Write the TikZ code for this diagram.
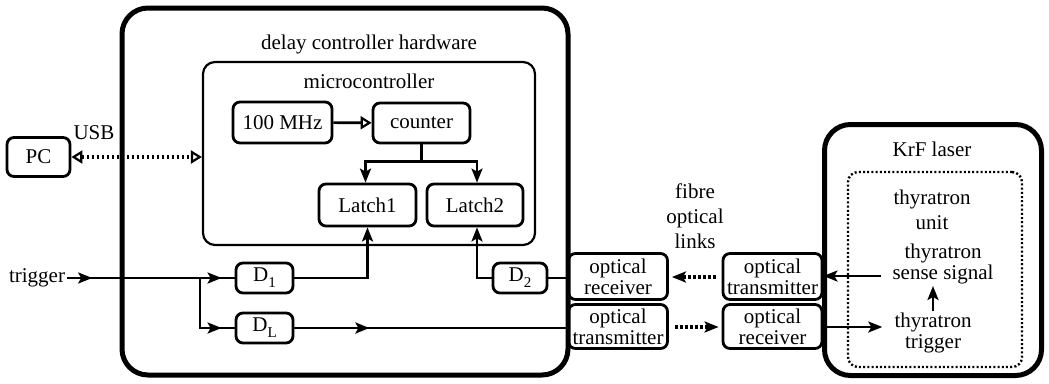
\documentclass[tikz,border=0pt]{standalone}
\usepackage{fontspec}
\setmainfont{Liberation Serif}
\usetikzlibrary{arrows.meta,calc}
\newcommand\dfont{\fontsize{21}{21}\selectfont}
\newcommand\subs[1]{\raisebox{-0.28em}{\fontsize{15}{15}\selectfont #1}}
\begin{document}
\begin{tikzpicture}[x=1pt,y=-1pt,
  every node/.style={font=\dfont, inner sep=2pt},
  box/.style={draw, line width=2.8pt, rounded corners=7pt, align=center, inner sep=0pt},
  bigbox/.style={draw, line width=5pt, rounded corners=26pt},
  wire/.style={line width=2.6pt},
  arr/.style={wire, -{Stealth[length=14pt,width=11pt,inset=3pt]}},
  openarr/.style={wire, -{Triangle[open,length=11pt,width=13pt,line width=2.2pt]}},
  dotline/.style={line width=3.2pt, dash pattern=on 2.6pt off 2.4pt},
  txt/.style={align=center}
]
\useasboundingbox (0,0) rectangle (1049,383);

% big containers
\node[bigbox, minimum width=446pt, minimum height=367pt] (dch) at (345,191.5) {};
\node (dchl) at (369,44) {delay controller hardware};
\node[draw, line width=2.2pt, rounded corners=12pt, minimum width=332pt, minimum height=183pt] (mc) at (369,153.5) {};
\node (mcl) at (369,81) {microcontroller};

\node[bigbox, minimum width=217pt, minimum height=251pt] (krf) at (933,250) {};
\node (krfl) at (932,149) {KrF laser};
\node[draw, line width=2.4pt, dash pattern=on 2pt off 2.2pt, rounded corners=10pt, minimum width=174pt, minimum height=195pt] (thu) at (935,269.5) {};
\node[txt] (thul) at (932,210) {thyratron\\[4pt]unit};

% micro controller internals
\node[box, minimum width=99pt, minimum height=41pt] (clk) at (282.5,122.5) {100 MHz};
\node[box, minimum width=97pt, minimum height=40pt] (cnt) at (421.5,123) {counter};
\node[box, minimum width=97pt, minimum height=42pt] (l1) at (367.5,205) {Latch1};
\node[box, minimum width=96pt, minimum height=42pt] (l2) at (475,205) {Latch2};

% PC
\node[box, minimum width=63pt, minimum height=39pt] (pc) at (38.5,157) {PC};
\node (usb) at (94,133) {USB};

% delay boxes
\node[box, minimum width=57pt, minimum height=30pt] (d1) at (264.5,278) {D\subs{1}};
\node[box, minimum width=57pt, minimum height=30pt] (dl) at (264.5,328) {D\subs{L}};
\node[box, minimum width=54pt, minimum height=30pt] (d2) at (520,278) {D\subs{2}};

% optical boxes
\node[box, minimum width=99pt, minimum height=46pt] (orl) at (618,276.5) {optical\\receiver};
\node[box, minimum width=99pt, minimum height=44pt] (otl) at (618,326.5) {optical\\transmitter};
\node[box, minimum width=99pt, minimum height=46pt] (otr) at (772.5,276.5) {optical\\transmitter};
\node[box, minimum width=99pt, minimum height=44pt] (orr) at (772.5,326.5) {optical\\receiver};
\node[txt] (fol) at (695,216) {fibre\\[4pt]optical\\[4pt]links};

% thyratron texts
\node[txt] (sense) at (943,264) {thyratron\\sense signal};
\node[txt] (trg) at (933,333) {thyratron\\trigger};

% trigger input
\node (trig) at (37,278) {trigger};
\coordinate (br) at (200,278);

% connectors
\draw[openarr] (clk) -- (cnt);
\draw[dotline, {Triangle[open,length=11pt,width=13pt,line width=2.2pt]}-{Triangle[open,length=11pt,width=13pt,line width=2.2pt]}] (pc.east) -- (pc.east -| mc.west);

\draw[wire] (cnt.south) -- ++(0,17) coordinate (split);
\draw[arr] (split) -| ([xshift=-2pt]l1.north);
\draw[arr] (split) -| ([xshift=2pt]l2.north);

\draw[wire] (trig.east) -- (d1.west);
\draw[arr] (trig.east) -- ++(25,0);
\draw[arr] (trig.east) -- ([xshift=-13pt]d1.west);
\draw[wire] (br) |- (dl.west);
\draw[arr] (br) |- ([xshift=-13pt]dl.west);
\draw[arr] (d1.east) -| (l1.south);
\draw[arr] (d2.west) -| ([xshift=2pt]l2.south);
\draw[wire] (d2.east) -- (d2.east -| orl.west);
\draw[wire] (dl.east) -- (dl.east -| otl.west);
\draw[arr] (dl.east) -- ++(75,0);

\draw[dotline, -{Stealth[length=14pt,width=11pt,inset=3pt]}] ([xshift=-6pt]otr.west |- 0,277) -- ([xshift=3pt]orl.east |- 0,277);
\draw[dotline, -{Stealth[length=14pt,width=11pt,inset=3pt]}] ([xshift=6pt]otl.east |- 0,327) -- ([xshift=-3pt]orr.west |- 0,327);

\draw[arr] ([xshift=-9pt]sense.west |- 0,276) -- (otr.east |- 0,276);
\draw[arr] (orr.east |- 0,327) -- ([xshift=-10pt]trg.west |- 0,327);
\draw[arr] (trg.north -| 933,0) -- (933,286);
\end{tikzpicture}
\end{document}
